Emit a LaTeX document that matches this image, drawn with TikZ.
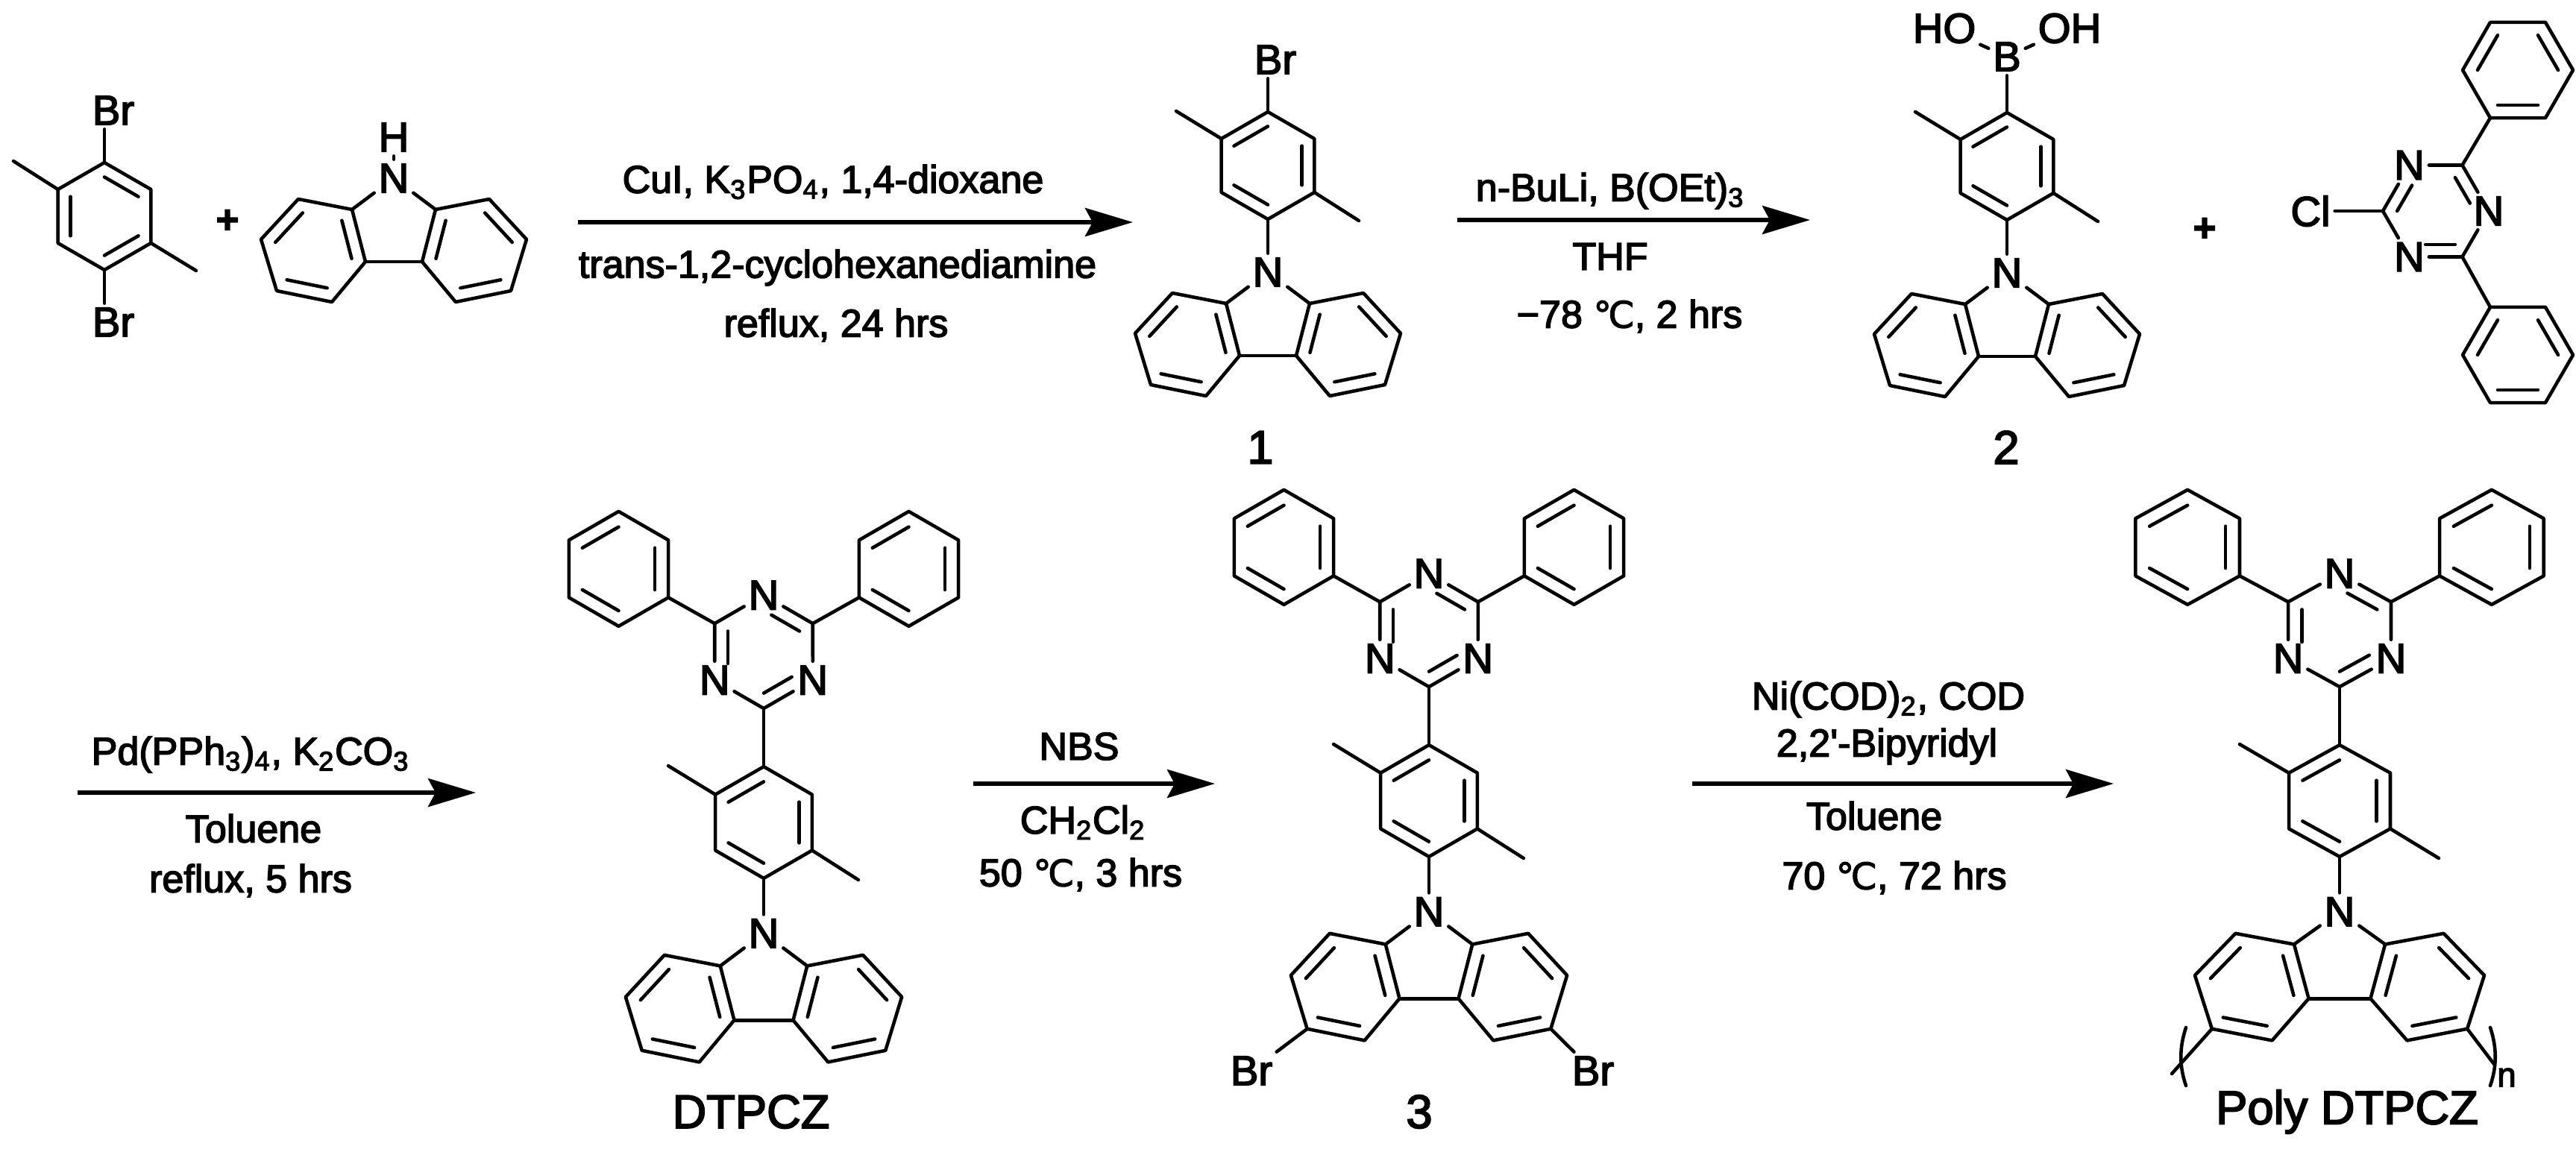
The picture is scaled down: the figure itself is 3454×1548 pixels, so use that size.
\documentclass[tikz,border=0pt]{standalone}
\usepackage{fontspec}
\setmainfont{Liberation Sans}[FakeBold=3]
\newfontfamily\symfont{DejaVu Sans}[FakeBold=2]
\usetikzlibrary{calc,arrows.meta}
\newcommand{\degC}{{\symfont\fontsize{14}{16}\selectfont ℃}}
\newcommand{\sbs}[1]{\textsubscript{#1}}
\tikzset{
	bond/.style={line width=1.3pt,line cap=round,line join=round},
	atom/.style={inner sep=1.5pt,font=\fontsize{16}{18}\selectfont},
	cond/.style={inner sep=0pt,font=\fontsize{14.8}{17}\selectfont},
	tag/.style={inner sep=0pt,font=\fontsize{18}{20}\selectfont},
	rxn/.style={line width=1.6pt,-{Stealth[length=6.4mm,width=3.8mm,inset=1mm]}},
}
% ring points: name, x, y, radius, start angle
\newcommand{\hexpts}[5]{
	\coordinate (#1c) at (#2,#3);
	\foreach\k in{0,...,5}{\coordinate (#1\k) at ({#2+#4*cos(#5-60*\k)},{#3-#4*sin(#5-60*\k)});}
}
% benzene: the same, then the edges that are double
\newcommand{\hexa}[6]{
	\hexpts{#1}{#2}{#3}{#4}{#5}
	\draw[bond] (#10)--(#11)--(#12)--(#13)--(#14)--(#15)--cycle;
	\foreach\k in{#6}{
		\pgfmathtruncatemacro{\m}{mod(\k+1,6)}
		\draw[bond] ($(#1\k)!0.27!(#1c)$)--($(#1\m)!0.27!(#1c)$);}
}
% triazine: even points are N, last argument pairs N/C of the double edges
\newcommand{\triazine}[6]{
	\hexpts{#1}{#2}{#3}{#4}{#5}
	\foreach\k in{0,2,4}{\node[atom] (#1N\k) at (#1\k) {N};}
	\draw[bond] (#1N0)--(#11)--(#1N2)--(#13)--(#1N4)--(#15)--(#1N0);
	\foreach\a/\b in{#6}{
		\draw[bond,shorten <=1.2mm] ($(#1\a)!0.27!(#1c)$)--($(#1\b)!0.27!(#1c)$);}
}
% carbazole hanging from its N: the N node must exist already
\newcommand{\carb}[4]{
	\begin{scope}[shift={(#2,#3)},#4]
	\foreach\s/\t in{-1/l,1/r}{
		\coordinate (#1\t a) at (\s*56,42);
		\coordinate (#1\t b) at (\s*128,28);
		\coordinate (#1\t c) at (\s*178,82);
		\coordinate (#1\t d) at (\s*157,151);
		\coordinate (#1\t e) at (\s*83,166);
		\coordinate (#1\t f) at (\s*38,112);
		\coordinate (#1\t o) at ($(#1\t a)!0.5!(#1\t d)$);
		\draw[bond] (#1\t a)--(#1\t b)--(#1\t c)--(#1\t d)--(#1\t e)--(#1\t f)--cycle;
		\draw[bond] ($(#1\t a)!0.27!(#1\t o)$)--($(#1\t f)!0.27!(#1\t o)$);
		\draw[bond] ($(#1\t b)!0.27!(#1\t o)$)--($(#1\t c)!0.27!(#1\t o)$);
		\draw[bond] ($(#1\t d)!0.27!(#1\t o)$)--($(#1\t e)!0.27!(#1\t o)$);
		\draw[bond] (#1N)--(#1\t a);}
	\draw[bond] (#1lf)--(#1rf);
	\end{scope}
}
% xylene ring with N-carbazole below it
\newcommand{\core}[4]{
	\begin{scope}[shift={(#2,#3)},#4]
	\hexa{#1}{0}{0}{72}{90}{1,3,5}
	\coordinate (#1ma) at (-123,-73);
	\coordinate (#1mb) at (122,74);
	\draw[bond] (#15)--(#1ma);
	\draw[bond] (#12)--(#1mb);
	\node[atom] (#1N) at (0,143) {N};
	\draw[bond] (#13)--(#1N);
	\carb{#1}{0}{143}{}
	\end{scope}
}
% the same with diphenyltriazine on top
\newcommand{\tcore}[4]{
	\core{#1}{#2}{#3}{#4}
	\begin{scope}[shift={(#2,#3)},#4]
	\triazine{#1t}{0}{-220}{73}{90}{0/1,2/3,4/5}
	\draw[bond] (#1t3)--(#10);
	\hexa{#1p}{-187}{-327}{74}{90}{5,1,3}
	\hexa{#1q}{187}{-327}{74}{90}{5,1,3}
	\draw[bond] (#1t5)--(#1p2);
	\draw[bond] (#1t1)--(#1q4);
	\end{scope}
}
\begin{document}
\begin{tikzpicture}[x=0.01cm,y=-0.01cm]
	\useasboundingbox (0,0) rectangle (3454,1548);
	% first row
	\hexa{sm}{140}{290}{72}{90}{0,2,4}
	\coordinate (smma) at (18,216);
	\coordinate (smmb) at (263,363);
	\draw[bond] (sm5)--(smma);
	\draw[bond] (sm2)--(smmb);
	\node[atom] (smBrt) at (152,148) {Br};
	\node[atom] (smBrb) at (152,432) {Br};
	\draw[bond] (sm0)--(sm0 |- smBrt.south);
	\draw[bond] (sm3)--(sm3 |- smBrb.north);
	\node[atom,font=\bfseries\fontsize{15}{17}\selectfont] (plusa) at (305,297) {+};
	\node[atom] (czN) at (528,239) {N};
	\node[atom] (czH) at (528,184) {H};
	\draw[bond] (czH)--(czN);
	\carb{cz}{528}{239}{}
	\coordinate (aas) at (775,298);
	\coordinate (aae) at (1519,298);
	\draw[rxn] (aas)--(aae);
	\node[cond] (aat) at (1117,244) {CuI, K\sbs{3}PO\sbs{4}, 1,4-dioxane};
	\node[cond] (aam) at (1123,359) {trans-1,2-cyclohexanediamine};
	\node[cond] (aab) at (1121,436) {reflux, 24 hrs};
	\core{one}{1700}{222}{}
	\node[atom] (oneBr) at (1710,80) {Br};
	\draw[bond] (one0)--(one0 |- oneBr.south);
	\node[tag] (onel) at (1690,600) {1};
	\coordinate (abs) at (1954,295);
	\coordinate (abe) at (2427,295);
	\draw[rxn] (abs)--(abe);
	\node[cond] (abt) at (2159,256) {n-BuLi, B(OEt)\sbs{3}};
	\node[cond] (abm) at (2159,344) {THF};
	\node[cond] (abb) at (2185,424) {−78 \degC, 2 hrs};
	\core{two}{2691}{223}{}
	\node[atom] (twoB) at (2691,76) {B};
	\node[atom] (twoHO) at (2607,38) {HO};
	\node[atom] (twoOH) at (2775,38) {OH};
	\draw[bond] (two0)--(twoB);
	\draw[bond] (twoHO)--(twoB);
	\draw[bond] (twoOH)--(twoB);
	\node[tag] (twol) at (2690,600) {2};
	\node[atom,font=\bfseries\fontsize{15}{17}\selectfont] (plusb) at (2956,308) {+};
	\triazine{cl}{3266}{283}{71}{120}{0/5,2/1,4/3}
	\node[atom] (clCl) at (3098,283) {Cl};
	\draw[bond] (cl5)--(clCl);
	\hexa{clp}{3376}{94}{74}{120}{5,1,3}
	\hexa{clq}{3376}{476}{74}{120}{5,1,3}
	\draw[bond] (cl1)--(clp4);
	\draw[bond] (cl3)--(clq0);
	% second row
	\coordinate (acs) at (104,1063);
	\coordinate (ace) at (638,1063);
	\draw[rxn] (acs)--(ace);
	\node[cond] (act) at (336,1012) {Pd(PPh\sbs{3})\sbs{4}, K\sbs{2}CO\sbs{3}};
	\node[cond] (acm) at (340,1111) {Toluene};
	\node[cond] (acb) at (336,1181) {reflux, 5 hrs};
	\tcore{dt}{1024}{1103}{scale=1.04}
	\node[tag] (dtl) at (1007,1491) {DTPCZ};
	\coordinate (ads) at (1305,1051);
	\coordinate (ade) at (1629,1051);
	\draw[rxn] (ads)--(ade);
	\node[cond] (adt) at (1447,1001) {NBS};
	\node[cond] (adm) at (1452,1103) {CH\sbs{2}Cl\sbs{2}};
	\node[cond] (adb) at (1449,1173) {50 \degC, 3 hrs};
	\tcore{th}{1916}{1074}{scale=1.04}
	\node[atom] (thBrl) at (1678,1436) {Br};
	\node[atom] (thBrr) at (2136,1436) {Br};
	\draw[bond] (thld)--(thBrl);
	\draw[bond] (thrd)--(thBrr);
	\node[tag] (thl) at (1903,1491) {3};
	\coordinate (aes) at (2269,1051);
	\coordinate (aee) at (2834,1051);
	\draw[rxn] (aes)--(aee);
	\node[cond] (aet) at (2532,938) {Ni(COD)\sbs{2}, COD};
	\node[cond] (aem) at (2530,1001) {2,2\textquotesingle-Bipyridyl};
	\node[cond] (aeb) at (2513,1094) {Toluene};
	\node[cond] (aec) at (2540,1177) {70 \degC, 72 hrs};
	\tcore{po}{3137}{1074}{xscale=1.09,yscale=1.04}
	\coordinate (pol) at (2912,1440);
	\coordinate (por) at (3344,1427);
	\draw[bond] (pold)--(pol);
	\draw[bond] (pord)--(por);
	\draw[bond] (2931,1378) .. controls (2922,1405) and (2922,1430) .. (2931,1456);
	\draw[bond] (3339,1378) .. controls (3348,1405) and (3348,1430) .. (3339,1456);
	\node[atom,font=\fontsize{13}{15}\selectfont] (pon) at (3361,1445) {n};
	\node[tag] (polabel) at (3147,1491) {Poly DTPCZ};
\end{tikzpicture}
\end{document}
